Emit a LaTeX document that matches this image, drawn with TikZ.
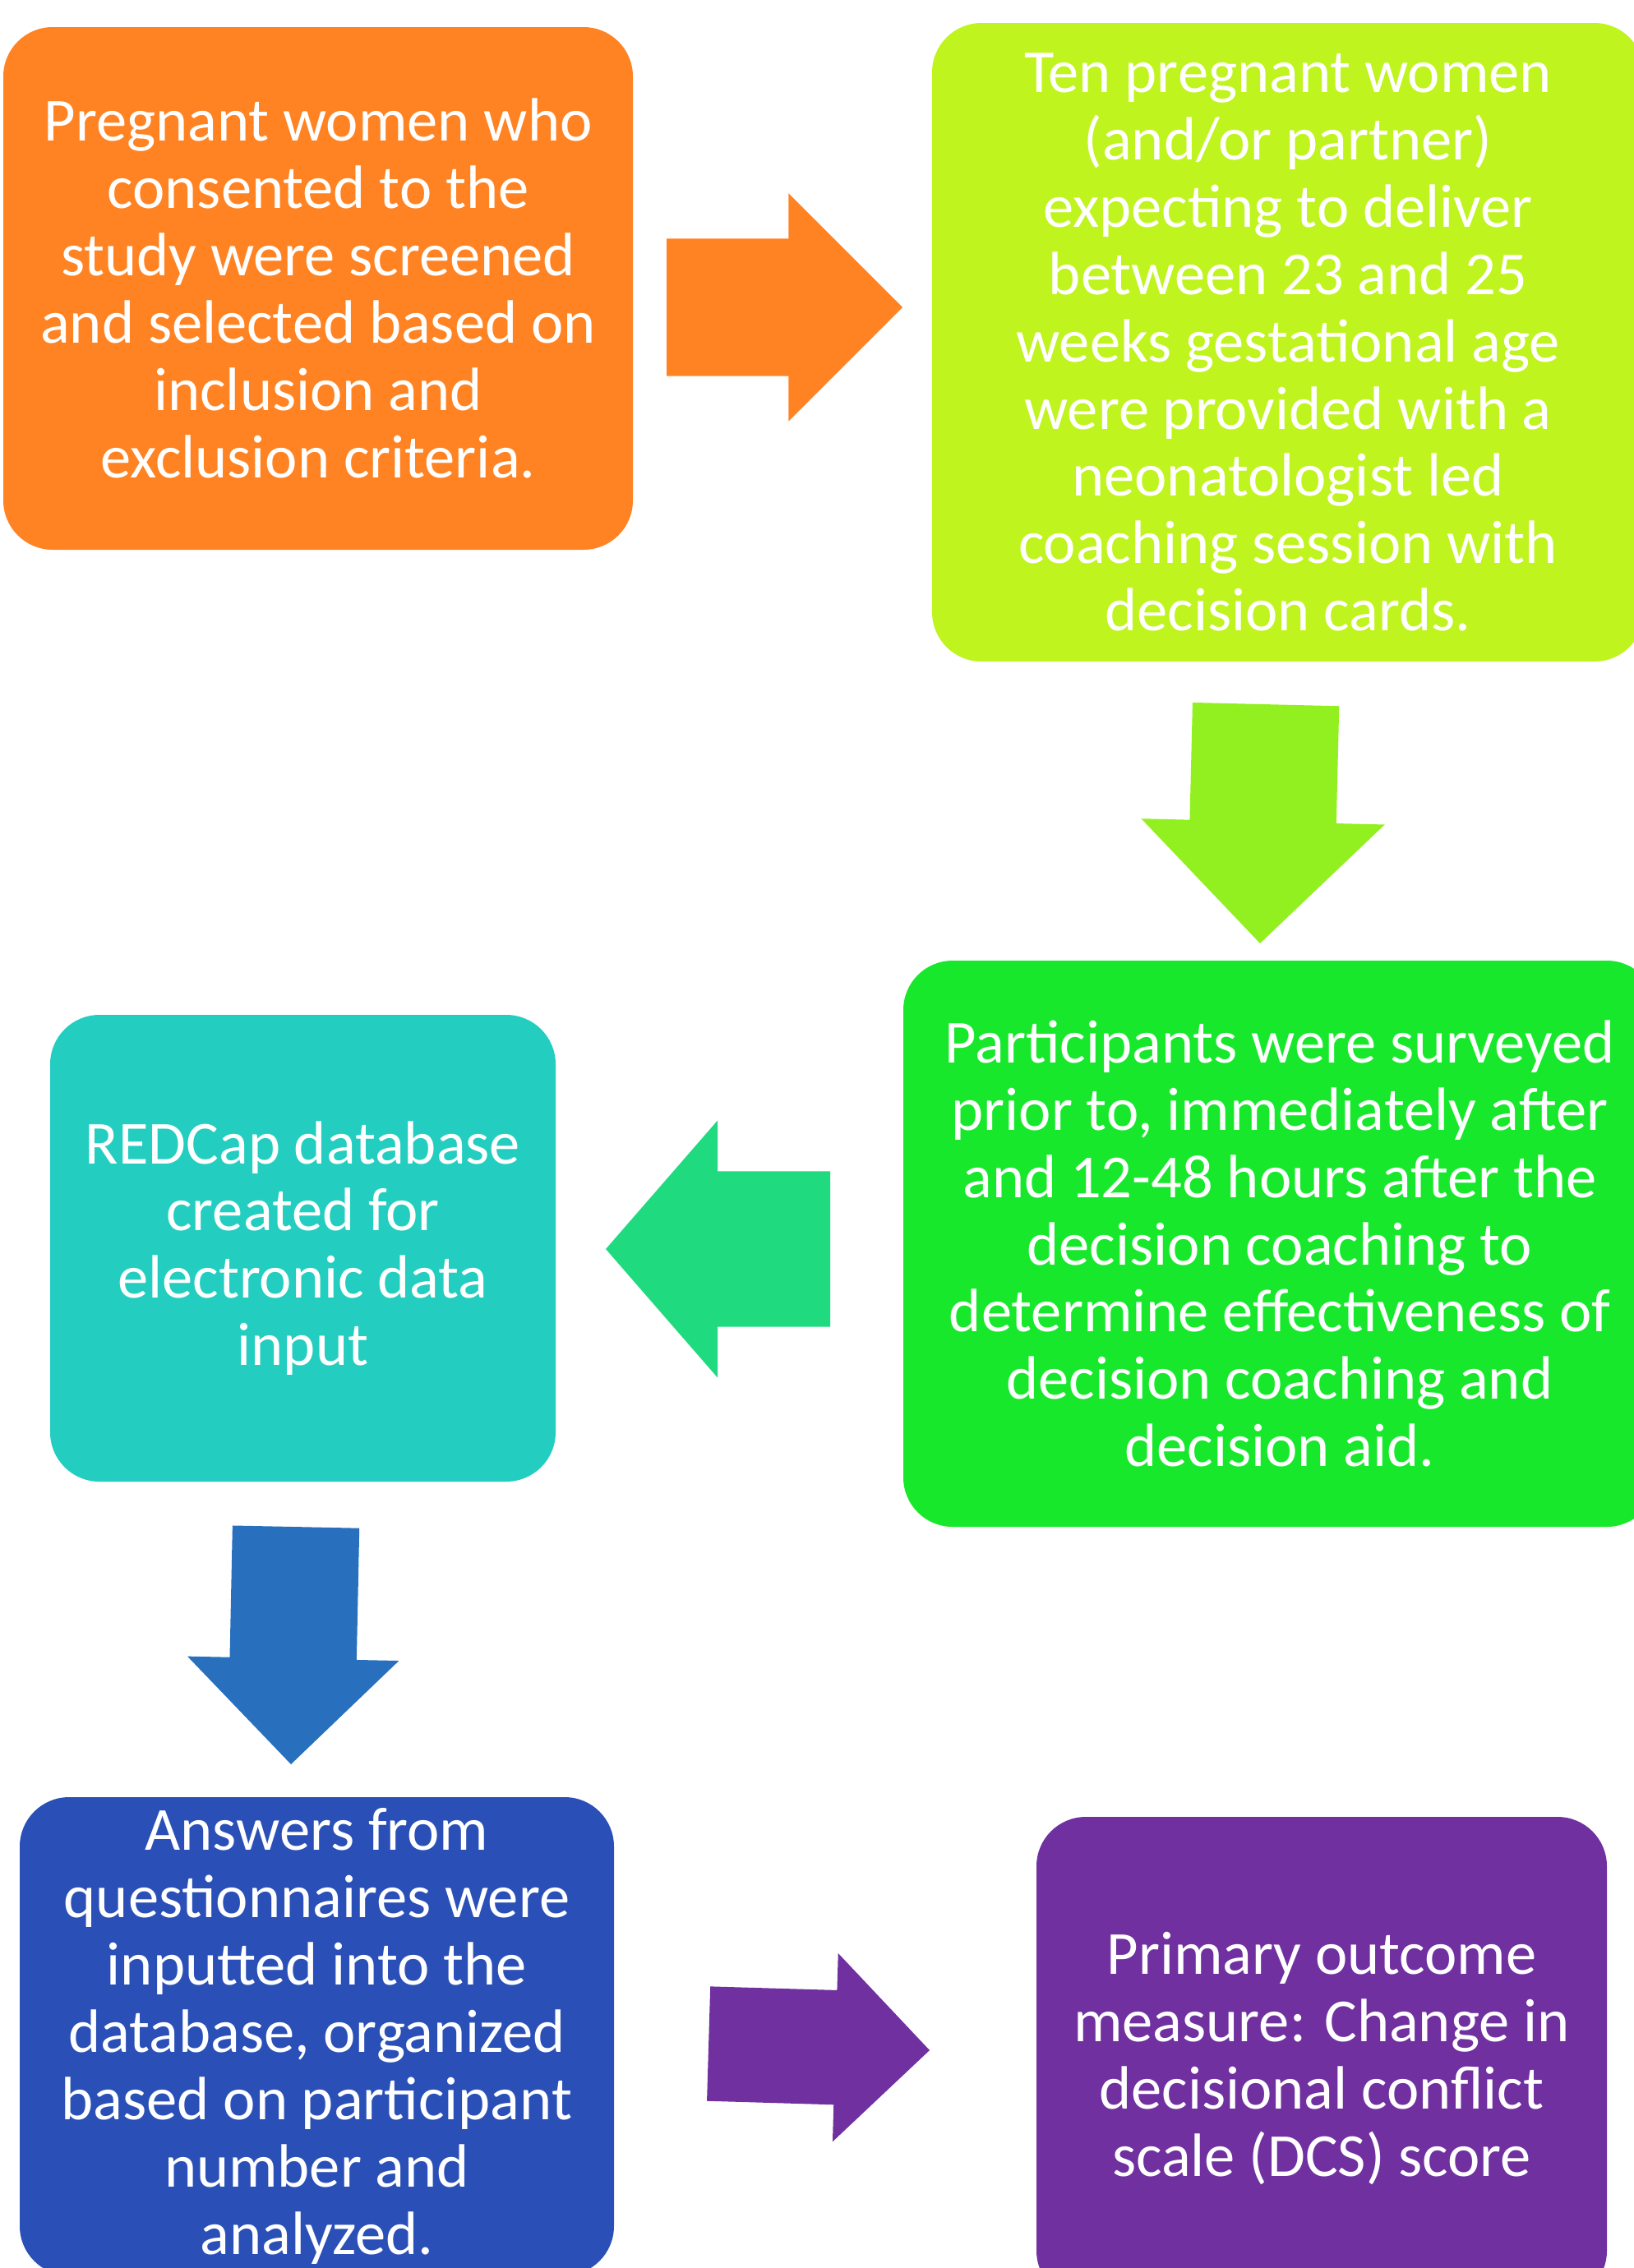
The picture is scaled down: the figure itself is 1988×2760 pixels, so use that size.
\documentclass[tikz,border=0pt]{standalone}
\usepackage{fontspec}
\setmainfont{Carlito}
\usetikzlibrary{shapes.arrows}
\definecolor{orangec}{RGB}{255,131,35}
\definecolor{limec}{RGB}{191,244,30}
\definecolor{limearr}{RGB}{146,240,32}
\definecolor{greenc}{RGB}{24,232,44}
\definecolor{greenarr}{RGB}{32,218,128}
\definecolor{tealc}{RGB}{35,206,192}
\definecolor{bluearr}{RGB}{40,112,190}
\definecolor{bluec}{RGB}{42,80,184}
\definecolor{purplec}{RGB}{112,48,160}
\tikzset{
  blk/.style={rectangle,rounded corners=6mm,inner sep=0pt,align=center,text=white,
    font=\fontsize{21.2pt}{23.3pt}\selectfont},
  orangeblk/.style={blk,fill=orangec},
  limeblk/.style={blk,fill=limec},
  greenblk/.style={blk,fill=greenc},
  tealblk/.style={blk,fill=tealc},
  blueblk/.style={blk,fill=bluec},
  purpleblk/.style={blk,fill=purplec},
  bigarr/.style={single arrow,anchor=tip,inner xsep=0pt,outer sep=0pt,minimum width=1pt,
    single arrow head indent=0pt,draw=none}
}

\begin{document}
\begin{tikzpicture}[x=0.1mm,y=-0.1mm]
  \useasboundingbox (0,0) rectangle (1988,2760);

  % Boxes
  \node[orangeblk,minimum width=76.6mm,minimum height=63.6mm] (screen) at (387,351)
    {Pregnant women who\\consented to the\\study were screened\\and selected based on\\inclusion and\\exclusion criteria.};
  \node[limeblk,minimum width=86.6mm,minimum height=77.7mm] (coach) at (1567,416.5)
    {Ten pregnant women\\(and/or partner)\\expecting to deliver\\between 23 and 25\\weeks gestational age\\were provided with a\\neonatologist led\\coaching session with\\decision cards.};
  \node[greenblk,minimum width=91.6mm,minimum height=68.9mm] (survey) at (1557,1513.5)
    {Participants were surveyed\\prior to, immediately after\\and 12-48 hours after the\\decision coaching to\\determine effectiveness of\\decision coaching and\\decision aid.};
  \node[tealblk,minimum width=61.5mm,minimum height=56.8mm] (redcap) at (368.5,1519)
    {REDCap database\\created for\\electronic data\\input};
  \node[blueblk,minimum width=72.3mm,minimum height=58.2mm] (answers) at (385.5,2478)
    {Answers from\\questionnaires were\\inputted into the\\database, organized\\based on participant\\number and\\analyzed.};
  \node[purpleblk,minimum width=69.4mm,minimum height=58.8mm] (outcome) at (1608,2505)
    {Primary outcome\\measure: Change in\\decisional conflict\\scale (DCS) score};

  % Block arrows
  \node[bigarr,fill=orangec,inner ysep=8.3mm,single arrow head extend=5.5mm,minimum height=28.7mm] (a1) at (1098,374) {};
  \node[bigarr,fill=limearr,inner ysep=8.85mm,single arrow head extend=5.9mm,minimum height=29.1mm,rotate=-91.4] (a2) at (1533,1148) {};
  \node[bigarr,fill=greenarr,inner ysep=9.4mm,single arrow head extend=6.2mm,minimum height=27.3mm,single arrow tip angle=98,rotate=180] (a3) at (737,1520) {};
  \node[bigarr,fill=bluearr,inner ysep=7.65mm,single arrow head extend=5.15mm,minimum height=28.9mm,rotate=-91.2] (a4) at (354,2147) {};
  \node[bigarr,fill=purplec,inner ysep=6.9mm,single arrow head extend=4.5mm,minimum height=26.9mm,rotate=-1.7] (a5) at (1131,2495) {};
\end{tikzpicture}
\end{document}
